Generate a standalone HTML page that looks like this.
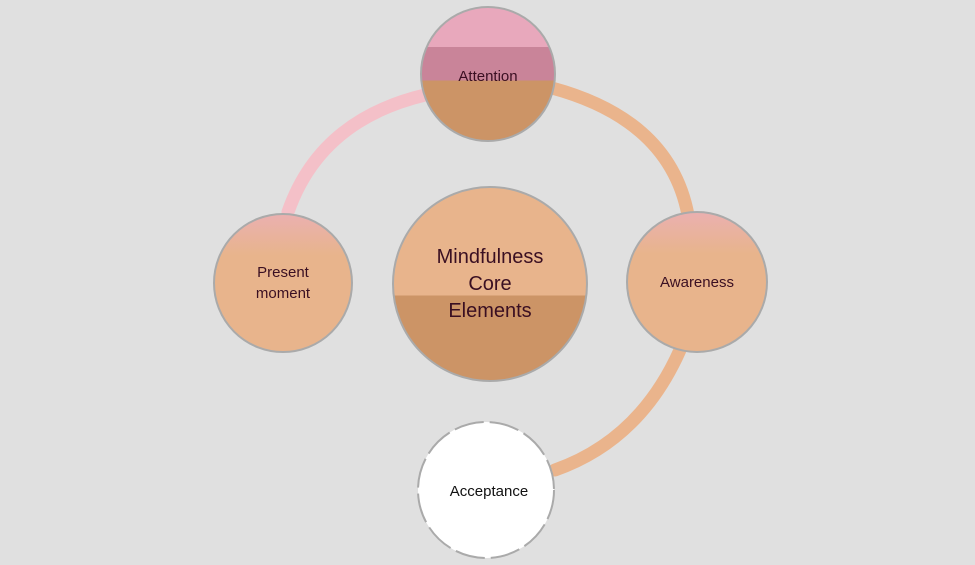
<!DOCTYPE html>
<html><head><meta charset="utf-8"><style>
html,body{margin:0;padding:0;background:#e0e0e0;}
svg{display:block;}
text{font-family:"Liberation Sans",sans-serif;fill:#3a0f22;text-anchor:middle;}
</style></head><body>
<svg width="975" height="565" viewBox="0 0 975 565">
<defs>
<linearGradient id="att" x1="0" y1="0" x2="0" y2="1">
<stop offset="0" stop-color="#e8a8bc"/><stop offset="0.3" stop-color="#e8a8bc"/>
<stop offset="0.3" stop-color="#c98499"/><stop offset="0.55" stop-color="#c98499"/>
<stop offset="0.55" stop-color="#cc9466"/><stop offset="1" stop-color="#cc9466"/>
</linearGradient>
<linearGradient id="mind" x1="0" y1="0" x2="0" y2="1">
<stop offset="0" stop-color="#e8b48c"/><stop offset="0.56" stop-color="#e8b48c"/>
<stop offset="0.56" stop-color="#cc9466"/><stop offset="1" stop-color="#cc9466"/>
</linearGradient>
<linearGradient id="side" x1="0" y1="0" x2="0" y2="1">
<stop offset="0" stop-color="#eab0b0"/><stop offset="0.3" stop-color="#e8b48c"/><stop offset="1" stop-color="#e8b48c"/>
</linearGradient>
</defs>
<g fill="none" stroke-width="13" stroke-linecap="round">
<path d="M425 95 Q320 120 288 212" stroke="#f4c0c8"/>
<path d="M552 88 Q670 120 688 215" stroke="#eab48c"/>
<path d="M680 350 Q640 440 555 470" stroke="#eab48c"/>
</g>
<circle cx="488" cy="74" r="67" fill="url(#att)" stroke="#aaa" stroke-width="2"/>
<circle cx="490" cy="284" r="97" fill="url(#mind)" stroke="#aaa" stroke-width="2"/>
<circle cx="283" cy="283" r="69" fill="url(#side)" stroke="#aaa" stroke-width="2"/>
<circle cx="697" cy="282" r="70" fill="url(#side)" stroke="#aaa" stroke-width="2"/>
<circle cx="486" cy="490" r="68" fill="#fff" stroke="#aaa" stroke-width="2" stroke-dasharray="30 6"/>
<text x="488" y="81" font-size="15">Attention</text>
<text x="490" y="263" font-size="20">Mindfulness</text>
<text x="490" y="290" font-size="20">Core</text>
<text x="490" y="317" font-size="20">Elements</text>
<text x="283" y="277" font-size="15">Present</text>
<text x="283" y="298" font-size="15">moment</text>
<text x="697" y="287" font-size="15">Awareness</text>
<text x="489" y="496" font-size="15" style="fill:#111">Acceptance</text>
</svg>
</body></html>
